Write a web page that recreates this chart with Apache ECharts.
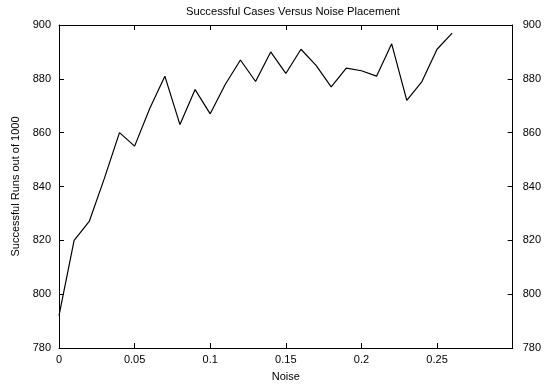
<!DOCTYPE html>
<html>
<head>
<meta charset="utf-8">
<script src="https://cdn.jsdelivr.net/npm/echarts@6/dist/echarts.min.js"></script>
<style>html,body{margin:0;padding:0;background:#fff;}#c{width:544px;height:387px;}</style>
</head>
<body>
<div id="c"></div>
<script>
var noise = [0, 0.01, 0.02, 0.03, 0.04, 0.05, 0.06, 0.07, 0.08, 0.09, 0.10, 0.11, 0.12, 0.13, 0.14, 0.15, 0.16, 0.17, 0.18, 0.19, 0.20, 0.21, 0.22, 0.23, 0.24, 0.25, 0.26];
var runs = [792, 820, 827, 843, 860, 855, 869, 881, 863, 876, 867, 878, 887, 879, 890, 882, 891, 885, 877, 884, 883, 881, 893, 872, 879, 891, 897];
var titleText = 'Successful Cases Versus Noise Placement';
var xName = 'Noise';
var yName = 'Successful Runs out of 1000';

var font = 'Liberation Sans, Arial, sans-serif';
var chart = echarts.init(document.getElementById('c'), null, {renderer: 'canvas'});
var axisLine = {show: true, onZero: false, lineStyle: {color: '#000', width: 1}};
var axisTick = {show: true, inside: true, length: 5, lineStyle: {color: '#000', width: 1}};
var label = {color: '#000', fontFamily: font, fontSize: 11};
chart.setOption({
  animation: false,
  backgroundColor: '#fff',
  title: {text: titleText, left: 288, top: 1, textAlign: 'center',
    textStyle: {fontFamily: font, fontSize: 11.2, fontWeight: 'normal', color: '#000'}},
  grid: {left: 59, right: 28, top: 25, bottom: 38, containLabel: false},
  xAxis: [{
    type: 'value', min: 0, max: 0.3, interval: 0.05, position: 'bottom',
    name: xName, nameLocation: 'middle', nameGap: 23,
    nameTextStyle: {fontFamily: font, fontSize: 11, color: '#000'},
    axisLine: axisLine, axisTick: axisTick, splitLine: {show: false},
    axisLabel: Object.assign({showMaxLabel: false, margin: 6}, label)
  }, {
    type: 'value', min: 0, max: 0.3, interval: 0.05, position: 'top',
    axisLine: axisLine, axisTick: axisTick, splitLine: {show: false},
    axisLabel: {show: false}
  }],
  yAxis: [{
    type: 'value', min: 780, max: 900, interval: 20, position: 'left',
    name: yName, nameLocation: 'middle', nameGap: 37, nameRotate: 90,
    nameTextStyle: {fontFamily: font, fontSize: 11, color: '#000'},
    axisLine: axisLine, axisTick: axisTick, splitLine: {show: false},
    axisLabel: Object.assign({margin: 8}, label)
  }, {
    type: 'value', min: 780, max: 900, interval: 20, position: 'right',
    axisLine: axisLine, axisTick: axisTick, splitLine: {show: false},
    axisLabel: Object.assign({margin: 10}, label)
  }],
  series: [{
    type: 'line', xAxisIndex: 0, yAxisIndex: 0,
    data: noise.map(function (x, i) { return [x, runs[i]]; }),
    showSymbol: false, symbol: 'none',
    lineStyle: {color: '#000', width: 1.2}
  }]
});
</script>
</body>
</html>
